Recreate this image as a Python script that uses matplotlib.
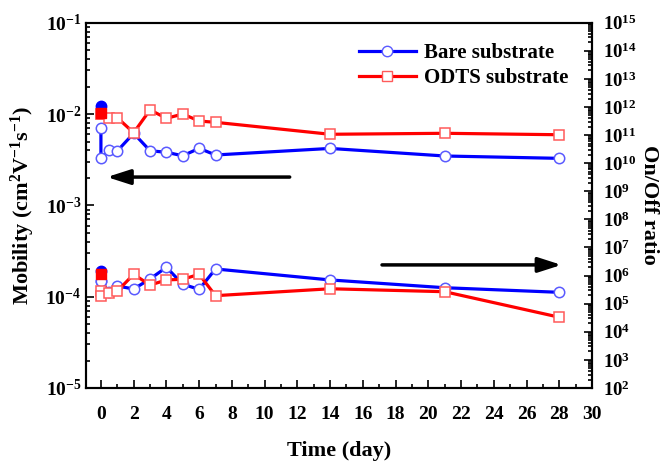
import matplotlib
matplotlib.use('Agg')
import matplotlib.pyplot as plt
from matplotlib.ticker import LogLocator, MultipleLocator, NullFormatter
from matplotlib.lines import Line2D

plt.rcParams['font.family'] = 'Liberation Serif'
plt.rcParams['font.weight'] = 'bold'
plt.rcParams['mathtext.fontset'] = 'custom'
plt.rcParams['mathtext.rm'] = 'Liberation Serif:bold'
plt.rcParams['mathtext.it'] = 'Liberation Serif:bold'
plt.rcParams['mathtext.bf'] = 'Liberation Serif:bold'
plt.rcParams['mathtext.default'] = 'bf'

# time points (day)
days = [0, 0, 0.5, 1, 2, 3, 4, 5, 6, 7, 14, 21, 28]

# mobility (cm2/Vs)
bare_mob = [6.97e-3, 3.27e-3, 4.04e-3, 3.94e-3, 6.15e-3, 3.96e-3, 3.81e-3,
            3.49e-3, 4.21e-3, 3.56e-3, 4.2e-3, 3.47e-3, 3.27e-3]
odts_mob = [9.9e-3, 9.9e-3, 9.1e-3, 9.1e-3, 6.24e-3, 1.11e-2, 8.97e-3,
            1.0e-2, 8.38e-3, 8.11e-3, 6.0e-3, 6.15e-3, 5.93e-3]

# on/off ratio
bare_onoff = [6.4e5, 6.4e5, 2.6e5, 4.27e5, 3.33e5, 7.6e5, 1.97e6,
              4.9e5, 3.25e5, 1.72e6, 7.0e5, 3.7e5, 2.54e5]
odts_onoff = [2.8e5, 1.93e5, 2.34e5, 2.8e5, 1.11e6, 4.6e5, 7.0e5,
              7.4e5, 1.11e6, 1.93e5, 3.4e5, 2.67e5, 3.3e4]

# initial (filled) values at day 0
bare_init_mob, odts_init_mob = 1.22e-2, 1.02e-2
bare_init_onoff, odts_init_onoff = 1.46e6, 1.11e6

blue, red = '#0000ff', '#ff0000'
blue_e, red_e = '#5a5aff', '#ff5a5a'

fig = plt.figure(figsize=(6.63, 4.63), dpi=100)
ax = fig.add_axes([0.130, 0.162, 0.763, 0.789])
ax2 = ax.twinx()

kw = dict(lw=2.3, ms=7.5, mfc='white', mew=1.1)
ax.plot(days, bare_mob, '-o', color=blue, mec=blue_e, **kw)
ax.plot(days, odts_mob, '-s', color=red, mec=red_e, **kw)
ax.plot([0], [bare_init_mob], 'o', color=blue, ms=7.5)
ax.plot([0], [odts_init_mob], 's', color=red, ms=7.5)

ax2.plot(days, bare_onoff, '-o', color=blue, mec=blue_e, **kw)
ax2.plot(days, odts_onoff, '-s', color=red, mec=red_e, **kw)
ax2.plot([0], [bare_init_onoff], 'o', color=blue, ms=7.5)
ax2.plot([0], [odts_init_onoff], 's', color=red, ms=7.5)

# arrows pointing to each axis
ax.annotate('', xy=(0.2, 2.04e-3), xytext=(11.7, 2.04e-3),
            arrowprops=dict(arrowstyle='-|>,head_length=1.4,head_width=0.45',
                            color='black', lw=2.5))
ax2.annotate('', xy=(28.3, 2.4e6), xytext=(17.0, 2.4e6),
             arrowprops=dict(arrowstyle='-|>,head_length=1.4,head_width=0.45',
                             color='black', lw=2.5))

ax.set_xlim(-0.9, 30)
ax.set_yscale('log')
ax.set_ylim(1e-5, 1e-1)
ax2.set_yscale('log')
ax2.set_ylim(1e2, 1e15)

ax.xaxis.set_major_locator(MultipleLocator(2))
ax.xaxis.set_minor_locator(MultipleLocator(1))
ax.yaxis.set_major_locator(LogLocator(base=10, numticks=10))
ax.yaxis.set_minor_locator(LogLocator(base=10, subs=range(2, 10), numticks=10))
ax.yaxis.set_minor_formatter(NullFormatter())
ax2.yaxis.set_major_locator(LogLocator(base=10, numticks=20))
ax2.yaxis.set_minor_locator(LogLocator(base=10, subs=range(2, 10), numticks=20))
ax2.yaxis.set_minor_formatter(NullFormatter())

for a in (ax, ax2):
    a.tick_params(which='both', direction='in', labelsize=14, width=1.2)
    a.tick_params(which='major', length=6)
    a.tick_params(which='minor', length=3)
    for s in a.spines.values():
        s.set_linewidth(1.5)
ax.tick_params(axis='x', pad=13)
ax.tick_params(axis='y', which='both', right=False)
ax2.tick_params(axis='y', pad=8, labelsize=13.5)

ax.set_xlabel('Time (day)', fontsize=16, fontweight='bold', labelpad=13)
ax.set_ylabel(r'Mobility (cm$^2$V$^{-1}$s$^{-1}$)', fontsize=16,
              fontweight='bold', labelpad=6)
ax2.set_ylabel('On/Off ratio', fontsize=16, fontweight='bold',
               rotation=270, labelpad=16)

handles = [Line2D([], [], color=blue, marker='o', mfc='white', mec=blue_e,
                  lw=2.3, ms=7.5),
           Line2D([], [], color=red, marker='s', mfc='white', mec=red_e,
                  lw=2.3, ms=7.5)]
ax2.legend(handles, ['Bare substrate', 'ODTS substrate'], loc='upper right',
           frameon=False, prop={'size': 15, 'weight': 'bold'},
           handlelength=2.7, handletextpad=0.4, labelspacing=0.25,
           bbox_to_anchor=(0.99, 0.995))

fig.savefig('out.png', dpi=100)
